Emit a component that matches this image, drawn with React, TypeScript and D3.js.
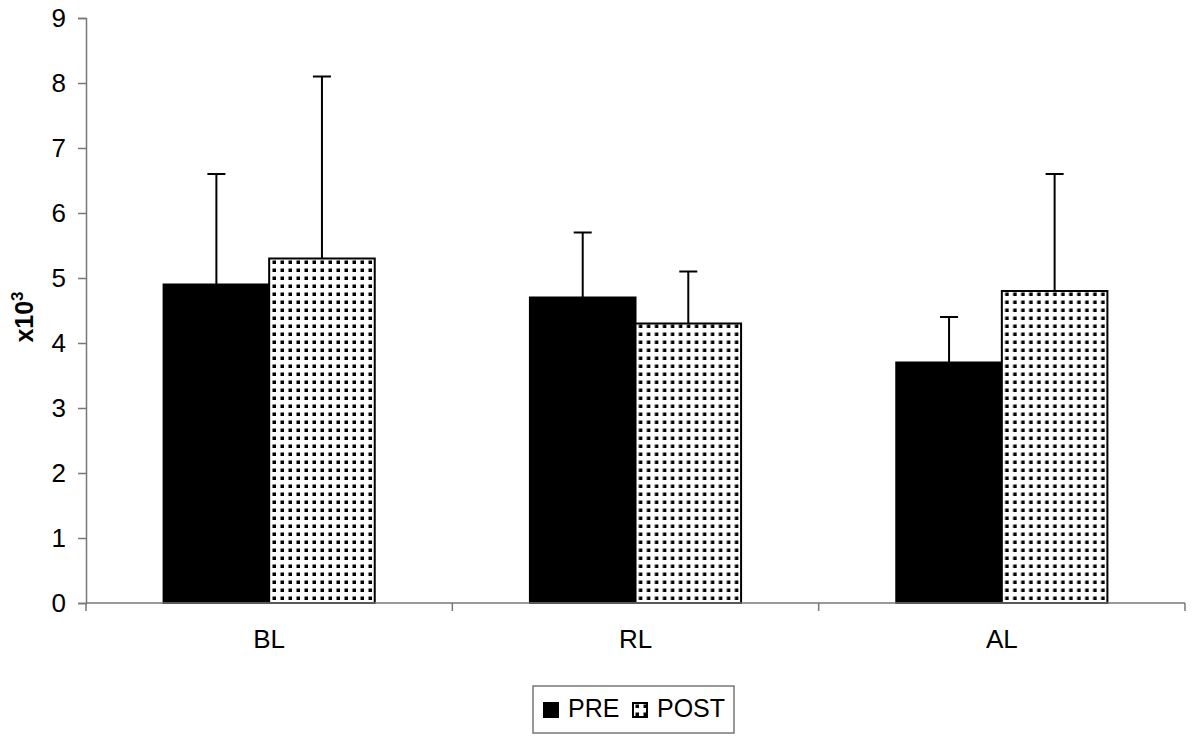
import { useEffect, useRef } from "react";
import * as d3 from "d3";

// chart values (units of 10^3)
const categories = ["BL", "RL", "AL"];
const seriesNames = ["PRE", "POST"];
const preValues = [4.9, 4.7, 3.7];
const postValues = [5.3, 4.3, 4.8];
const preErrors = [1.7, 1.0, 0.7];
const postErrors = [2.8, 0.8, 1.8];
const yTicks = [0, 1, 2, 3, 4, 5, 6, 7, 8, 9];

const W = 1200;
const H = 741;
const margin = { top: 18, right: 15, bottom: 138, left: 86 };
const FONT = "Liberation Sans, Arial, sans-serif";

const App = () => {
  const ref = useRef<SVGSVGElement>(null);

  useEffect(() => {
    const svg = d3.select(ref.current);
    svg.selectAll("*").remove();

    const innerW = W - margin.left - margin.right;
    const innerH = H - margin.top - margin.bottom;

    // dotted fill for the POST bars
    const defs = svg.append("defs");
    const pat = defs.append("pattern")
      .attr("id", "dots")
      .attr("patternUnits", "userSpaceOnUse")
      .attr("width", 8)
      .attr("height", 8);
    pat.append("rect").attr("width", 8).attr("height", 8).attr("fill", "white");
    pat.append("rect").attr("x", 2.5).attr("y", 2.5).attr("width", 3.5).attr("height", 3.5).attr("fill", "black");

    const g = svg.append("g")
      .attr("transform", `translate(${margin.left}, ${margin.top})`);

    const x = d3.scaleBand().domain(categories).range([0, innerW]).paddingInner(0).paddingOuter(0);
    const inner = d3.scaleBand().domain(seriesNames).range([0, x.bandwidth()]).paddingOuter(0.735).paddingInner(0);
    const y = d3.scaleLinear().domain([0, 9]).range([innerH, 0]);

    // y axis
    const yAxis = g.append("g")
      .call(d3.axisLeft(y).tickValues(yTicks).tickSize(8).tickPadding(12).tickFormat(d3.format("d")));
    yAxis.select(".domain").attr("stroke", "#777").attr("stroke-width", 1.5);
    yAxis.selectAll(".tick line").attr("stroke", "#777").attr("stroke-width", 1.5);
    yAxis.selectAll("text")
      .attr("font-family", FONT)
      .attr("font-size", 26)
      .attr("dy", "0.34em")
      .attr("fill", "#000");

    // y label
    const lbl = g.append("text")
      .attr("transform", `translate(-53, ${y(4.4)}) rotate(-90)`)
      .attr("text-anchor", "middle")
      .attr("font-family", FONT)
      .attr("font-weight", "bold")
      .attr("font-size", 25);
    lbl.append("tspan").text("x10");
    lbl.append("tspan").attr("dy", -10).attr("font-size", 17).text("3");

    const data = categories.map((c, i) => ({
      cat: c,
      bars: [
        { name: "PRE", value: preValues[i], err: preErrors[i] },
        { name: "POST", value: postValues[i], err: postErrors[i] },
      ],
    }));

    const groups = g.selectAll("g.grp")
      .data(data)
      .join("g")
      .attr("class", "grp")
      .attr("transform", (d) => `translate(${x(d.cat)}, 0)`);

    // error bars (upper only)
    groups.selectAll("g.err")
      .data((d) => d.bars)
      .join("g")
      .attr("class", "err")
      .each(function (d) {
        const cx = (inner(d.name) as number) + inner.bandwidth() / 2;
        const e = d3.select(this);
        e.append("line")
          .attr("x1", cx).attr("x2", cx)
          .attr("y1", y(d.value)).attr("y2", y(d.value + d.err))
          .attr("stroke", "black").attr("stroke-width", 2);
        e.append("line")
          .attr("x1", cx - 9).attr("x2", cx + 9)
          .attr("y1", y(d.value + d.err)).attr("y2", y(d.value + d.err))
          .attr("stroke", "black").attr("stroke-width", 2);
      });

    groups.selectAll("rect.bar")
      .data((d) => d.bars)
      .join("rect")
      .attr("class", "bar")
      .attr("x", (d) => inner(d.name) as number)
      .attr("width", inner.bandwidth())
      .attr("y", (d) => y(d.value))
      .attr("height", (d) => y(0) - y(d.value))
      .attr("fill", (d) => (d.name === "PRE" ? "black" : "url(#dots)"))
      .attr("stroke", "black")
      .attr("stroke-width", 2);

    // x axis
    const xAxis = g.append("g").attr("transform", `translate(0, ${innerH})`);
    xAxis.append("line")
      .attr("x1", 0).attr("x2", innerW)
      .attr("stroke", "#777").attr("stroke-width", 1.5);
    xAxis.selectAll("line.tk")
      .data(categories.concat([""]))
      .join("line")
      .attr("class", "tk")
      .attr("x1", (_d, i) => i * x.step()).attr("x2", (_d, i) => i * x.step())
      .attr("y1", 0).attr("y2", 8)
      .attr("stroke", "#777").attr("stroke-width", 1.5);
    xAxis.selectAll("text")
      .data(categories)
      .join("text")
      .attr("x", (d) => (x(d) as number) + x.bandwidth() / 2)
      .attr("y", 45)
      .attr("text-anchor", "middle")
      .attr("font-family", FONT)
      .attr("font-size", 26)
      .text((d) => d);

    // legend
    const leg = svg.append("g").attr("transform", "translate(533, 686)");
    leg.append("rect")
      .attr("width", 201).attr("height", 47)
      .attr("fill", "white").attr("stroke", "#777").attr("stroke-width", 1.5);
    const items = leg.selectAll("g.it")
      .data(seriesNames)
      .join("g")
      .attr("class", "it")
      .attr("transform", (_d, i) => `translate(${11 + i * 89}, 0)`);
    items.append("rect")
      .attr("y", 17).attr("width", 14).attr("height", 14)
      .attr("fill", (d) => (d === "PRE" ? "black" : "url(#dots)"))
      .attr("stroke", "black").attr("stroke-width", 2);
    items.append("text")
      .attr("x", 24).attr("y", 31)
      .attr("font-family", FONT)
      .attr("font-size", 25)
      .text((d) => d);
  }, []);

  return (
    <svg ref={ref} width={W} height={H} style={{ display: "block", position: "absolute", left: 0, top: 0 }} />
  );
};

export default App;
